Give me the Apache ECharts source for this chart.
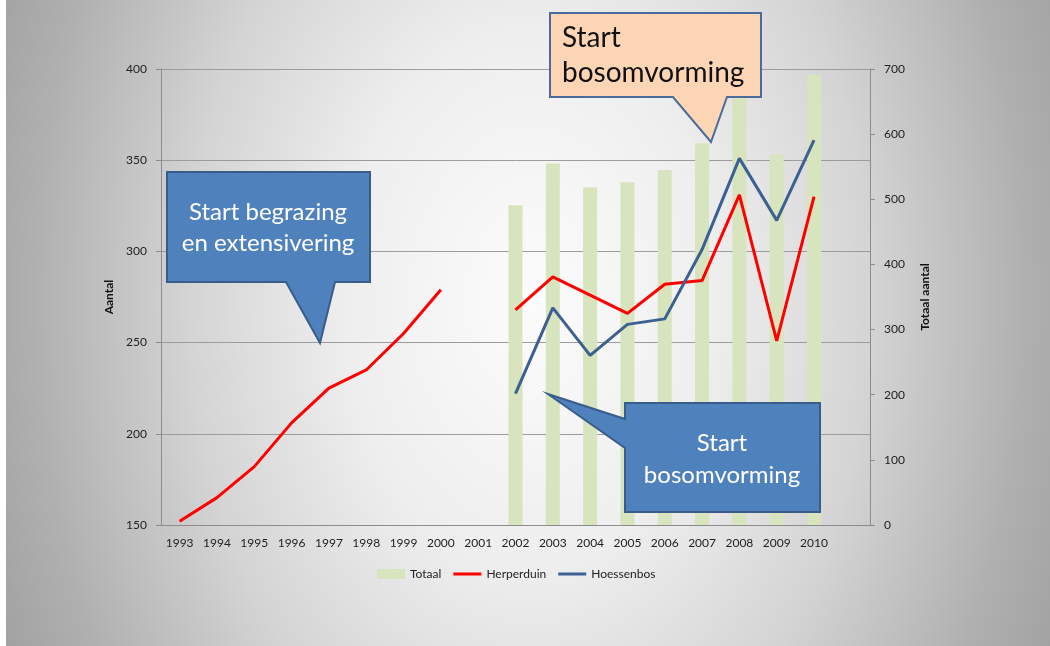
<!DOCTYPE html>
<html>
<head>
<meta charset="utf-8">
<script src="https://cdn.jsdelivr.net/npm/echarts@6/dist/echarts.min.js"></script>
<style>
  html, body { margin: 0; padding: 0; }
  #chart {
    width: 1050px;
    height: 646px;
    background: radial-gradient(ellipse 620px 900px at 530px 300px, #fcfcfc 0%, #eeeeee 30%, #d4d4d4 55%, #b0b0b0 80%, #9a9a9a 100%);
  }
</style>
</head>
<body>
<div id="chart"></div>
<script>
// categories (last one is an empty slot, as in the original chart)
var years = ["1993", "1994", "1995", "1996", "1997", "1998", "1999", "2000", "2001",
  "2002", "2003", "2004", "2005", "2006", "2007", "2008", "2009", "2010", ""];
var totaal = [null, null, null, null, null, null, null, null, null,
  491, 555, 518, 526, 545, 586, 682, 569, 691, null];
var herperduin = [152, 165, 182, 206, 225, 235, 255, 279, null,
  268, 286, 276, 266, 282, 284, 331, 251, 330, null];
var hoessenbos = [null, null, null, null, null, null, null, null, null,
  222, 269, 243, 260, 263, 301, 351, 317, 361, null];
var leftTicks = { min: 150, max: 400, step: 50 };
var rightTicks = { min: 0, max: 700, step: 100 };

var fontFam = "Lato, 'Open Sans', sans-serif";
var chart = echarts.init(document.getElementById("chart"));

var option = {
  animation: false,
  textStyle: { fontFamily: fontFam },
  grid: { left: 161, right: 180, top: 69, bottom: 121 },
  legend: {
    bottom: 61,
    left: 372,
    itemWidth: 28,
    itemHeight: 10,
    itemGap: 12,
    textStyle: { fontSize: 12, color: "#222", fontFamily: fontFam },
    data: [
      { name: "Totaal", icon: "rect" },
      { name: "Herperduin", icon: "path://M0,4 L28,4 L28,7 L0,7 Z" },
      { name: "Hoessenbos", icon: "path://M0,4 L28,4 L28,7 L0,7 Z" }
    ]
  },
  xAxis: {
    type: "category",
    data: years,
    axisLine: { lineStyle: { color: "#8c8c8c" } },
    axisTick: { length: 5, lineStyle: { color: "#8c8c8c" } },
    axisLabel: { color: "#222", fontSize: 12, margin: 12, interval: 0 }
  },
  yAxis: [
    {
      type: "value",
      min: leftTicks.min,
      max: leftTicks.max,
      interval: leftTicks.step,
      name: "Aantal",
      nameLocation: "middle",
      nameRotate: 90,
      nameGap: 40,
      nameTextStyle: { fontWeight: "bold", fontSize: 12, color: "#111" },
      axisLine: { show: true, lineStyle: { color: "#8c8c8c" } },
      axisTick: { show: true, length: 5, lineStyle: { color: "#8c8c8c" } },
      axisLabel: { color: "#222", fontSize: 12, margin: 14 },
      splitLine: { lineStyle: { color: "#9c9c9c", width: 1 } }
    },
    {
      type: "value",
      position: "right",
      min: rightTicks.min,
      max: rightTicks.max,
      interval: rightTicks.step,
      name: "Totaal aantal",
      nameLocation: "middle",
      nameRotate: 90,
      nameGap: 49,
      nameTextStyle: { fontWeight: "bold", fontSize: 12, color: "#111" },
      axisLine: { show: true, lineStyle: { color: "#8c8c8c" } },
      axisTick: { show: true, length: 5, lineStyle: { color: "#8c8c8c" } },
      axisLabel: { color: "#222", fontSize: 12, margin: 14 },
      splitLine: { show: false }
    }
  ],
  series: [
    {
      name: "Totaal",
      type: "bar",
      yAxisIndex: 1,
      barWidth: 14,
      data: totaal,
      itemStyle: { color: "#d7e4bd" }
    },
    {
      name: "Herperduin",
      type: "line",
      yAxisIndex: 0,
      data: herperduin,
      symbol: "none",
      connectNulls: false,
      lineStyle: { color: "#ff0000", width: 3 },
      itemStyle: { color: "#ff0000" }
    },
    {
      name: "Hoessenbos",
      type: "line",
      yAxisIndex: 0,
      data: hoessenbos,
      symbol: "none",
      connectNulls: false,
      lineStyle: { color: "#3c6092", width: 3 },
      itemStyle: { color: "#3c6092" }
    }
  ],
  graphic: [
    // white strip on the left edge
    { type: "rect", left: 0, top: 0, shape: { width: 6, height: 646 }, style: { fill: "#ffffff" }, z: 0 },
    // callout: start begrazing
    {
      type: "polygon", z: 100,
      shape: { points: [[167, 172], [370, 172], [370, 282], [335, 282], [320, 343], [286, 282], [167, 282]] },
      style: { fill: "#4f81bd", stroke: "#385d8a", lineWidth: 2 }
    },
    {
      type: "text", z: 101, x: 268, y: 228,
      style: {
        text: "Start begrazing\nen extensivering", fill: "#ffffff", fontSize: 24, lineHeight: 31,
        fontFamily: fontFam, align: "center", verticalAlign: "middle"
      }
    },
    // callout: top orange
    {
      type: "polygon", z: 100,
      shape: { points: [[550, 13], [761, 13], [761, 97], [727, 97], [711, 142], [673, 97], [550, 97]] },
      style: { fill: "#fcd5b5", stroke: "#4a6c9b", lineWidth: 2 }
    },
    {
      type: "text", z: 101, x: 562, y: 55,
      style: {
        text: "Start\nbosomvorming", fill: "#111111", fontSize: 28, lineHeight: 35,
        fontFamily: fontFam, align: "left", verticalAlign: "middle"
      }
    },
    // callout: lower blue
    {
      type: "polygon", z: 100,
      shape: { points: [[625, 403], [820, 403], [820, 512], [625, 512], [625, 448], [548, 394], [625, 419]] },
      style: { fill: "#4f81bd", stroke: "#385d8a", lineWidth: 2 }
    },
    {
      type: "text", z: 101, x: 722, y: 459,
      style: {
        text: "Start\nbosomvorming", fill: "#ffffff", fontSize: 24, lineHeight: 32,
        fontFamily: fontFam, align: "center", verticalAlign: "middle"
      }
    }
  ]
};

chart.setOption(option);
</script>
</body>
</html>
